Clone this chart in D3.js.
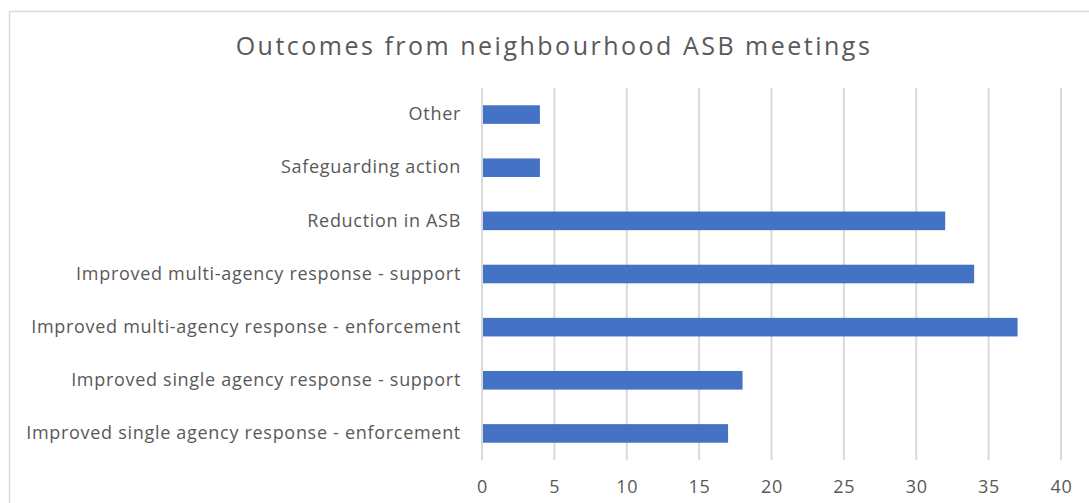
<!DOCTYPE html>
<html>
<head>
<meta charset="utf-8">
<script src="https://cdn.jsdelivr.net/npm/d3@7"></script>
<style>
  body { margin: 0; background: #fff; }
  svg { display: block; font-family: "Open Sans", sans-serif; }
</style>
</head>
<body>
<svg id="chart" width="1089" height="503"></svg>
<script>
// categories top to bottom
let categories = [
  'Other',
  'Safeguarding action',
  'Reduction in ASB',
  'Improved multi-agency response - support',
  'Improved multi-agency response - enforcement',
  'Improved single agency response - support',
  'Improved single agency response - enforcement'
]
let values = [4, 4, 32, 34, 37, 18, 17]
let xTicks = [0, 5, 10, 15, 20, 25, 30, 35, 40]
let title = 'Outcomes from neighbourhood ASB meetings'

let width = 1089
let height = 503
let margin = { top: 88, right: 28, bottom: 43, left: 482 }

let svg = d3.select('#chart')

// outer chart border (cut off at the right and bottom)
svg.append('rect')
  .attr('x', 9.5).attr('y', 11.5)
  .attr('width', 1200).attr('height', 600)
  .attr('fill', 'none')
  .attr('stroke', '#d9d9d9')
  .attr('stroke-width', 1.5)

svg.append('text')
  .attr('x', 554).attr('y', 55)
  .attr('text-anchor', 'middle')
  .style('font-size', '25px')
  .style('letter-spacing', '2.5px')
  .style('fill', '#595959')
  .text(title)

let x = d3.scaleLinear()
  .domain([0, 40])
  .range([margin.left, width - margin.right])

let y = d3.scaleBand()
  .domain(categories)
  .range([margin.top, height - margin.bottom])
  .paddingInner(0.65)
  .paddingOuter(0.325)

// gridlines
svg.append('g')
  .selectAll('line')
  .data(xTicks)
  .enter().append('line')
  .attr('x1', d => x(d)).attr('x2', d => x(d))
  .attr('y1', margin.top).attr('y2', height - margin.bottom)
  .attr('stroke', '#d9d9d9')
  .attr('stroke-width', 2)

// x tick labels
let xAxis = d3.axisBottom(x).tickValues(xTicks).tickSize(0).tickPadding(20)
let gx = svg.append('g')
  .attr('transform', 'translate(0,' + (height - margin.bottom) + ')')
  .call(xAxis)
gx.select('.domain').remove()
gx.selectAll('text')
  .style('font-size', '18px')
  .style('letter-spacing', '0.8px')
  .style('font-family', '"Open Sans", sans-serif')
  .attr('fill', '#595959')

// category labels
let yAxis = d3.axisLeft(y).tickSize(0).tickPadding(21)
let gy = svg.append('g')
  .attr('transform', 'translate(' + margin.left + ',0)')
  .call(yAxis)
gy.select('.domain').remove()
gy.selectAll('text')
  .style('font-size', '18px')
  .style('letter-spacing', '0.7px')
  .style('font-family', '"Open Sans", sans-serif')
  .attr('fill', '#595959')

// bars
svg.append('g')
  .selectAll('rect')
  .data(values)
  .enter().append('rect')
  .attr('x', x(0) + 1)
  .attr('y', (d, i) => y(categories[i]))
  .attr('width', d => x(d) - x(0) - 1)
  .attr('height', y.bandwidth())
  .attr('fill', '#4472c4')
</script>
</body>
</html>
